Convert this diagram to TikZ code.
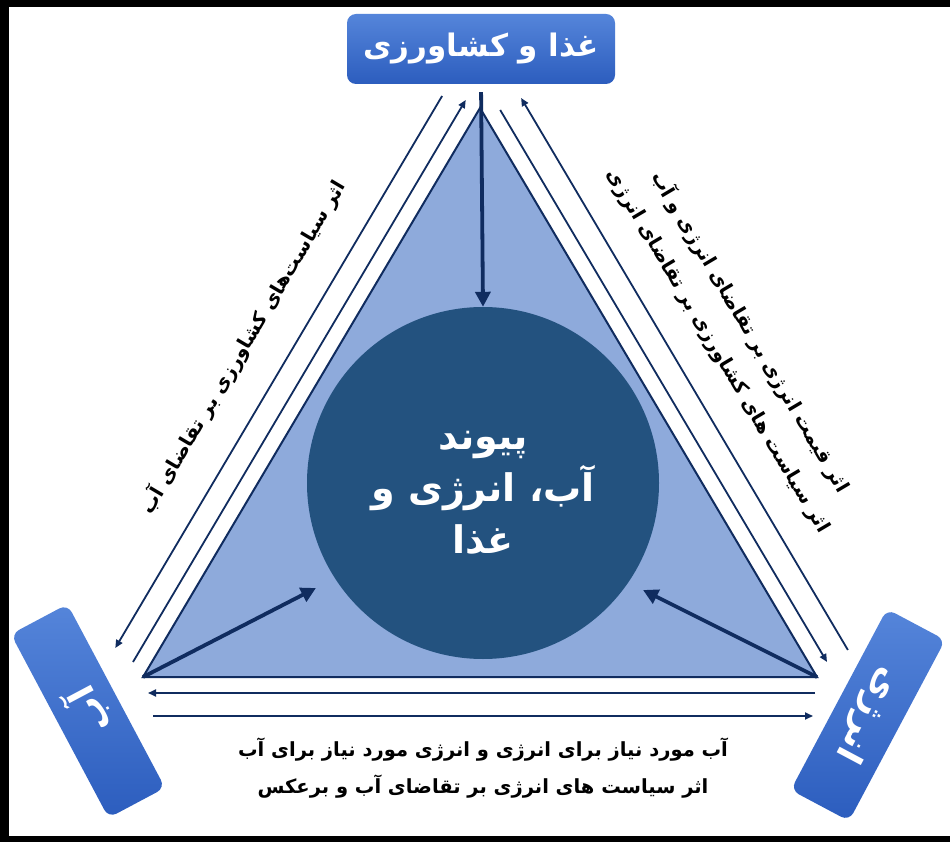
\documentclass[tikz,border=0pt]{standalone}
\usepackage{fontspec}
\newfontfamily\fa[Script=Arabic]{DejaVu Sans}
\TeXXeTstate=1
\usetikzlibrary{arrows.meta}
\definecolor{navy}{HTML}{102C5F}
\definecolor{trifill}{HTML}{8EAADB}
\definecolor{circfill}{HTML}{23527F}
\definecolor{boxtop}{HTML}{5585DA}
\definecolor{boxbot}{HTML}{2C5DBE}
\newcommand{\rl}[1]{\beginR#1\endR}
\begin{document}
\begin{tikzpicture}[x=1pt,y=-1pt,
  sideline/.style={draw=navy, line width=1.8pt},
  headend/.style={-{Triangle[length=8pt,width=7pt]}},
  bigarrow/.style={draw=navy, line width=3.8pt, -{Triangle[length=15pt,width=15pt]}},
  blockbox/.style={rounded corners=9pt, top color=boxtop, bottom color=boxbot, draw=none, text=white, inner sep=0pt, font=\fa\bfseries\fontsize{31}{33}\selectfont},
  sidefont/.style={font=\fa\bfseries\fontsize{36}{38}\selectfont},
  lbl/.style={inner sep=0pt, text=black, align=center, font=\fa\bfseries\fontsize{19.5}{37}\selectfont},
]
\useasboundingbox (0,0) rectangle (950,842);
\fill[white] (0,0) rectangle (950,842);
% frame
\fill[black] (0,0) rectangle (950,7);
\fill[black] (0,0) rectangle (9,842);
\fill[black] (0,836) rectangle (950,842);

% triangle
\coordinate (A) at (480,108);
\coordinate (B) at (143,677);
\coordinate (C) at (817,677);
\filldraw[fill=trifill, draw=navy, line width=2pt] (A) -- (B) -- (C) -- cycle;

% boxes
\node[blockbox, minimum width=268pt, minimum height=70pt] (food) at (481,49) {\rl{غذا و کشاورزی}};
\node[blockbox, sidefont, minimum width=208pt, minimum height=64pt, rotate=118] (water) at (88,711) {\rl{آب}};
\node[blockbox, sidefont, minimum width=205pt, minimum height=66pt, rotate=-118] (energy) at (868,715) {\rl{انرژی}};

% circle
\node[circle, fill=circfill, minimum size=352pt, inner sep=0pt] (nexus) at (483,483) {};
\node[text=white, align=center, inner sep=0pt, font=\fa\bfseries\fontsize{38}{52}\selectfont] (nexustxt) at (483,493) {\rl{پیوند}\\\rl{آب، انرژی و}\\\rl{غذا}};

% side line endpoints
\coordinate (LOt) at (442.1,96);  \coordinate (LOb) at (115.3,648);
\coordinate (LIt) at (465.7,100); \coordinate (LIb) at (133.0,662);
\coordinate (RIt) at (500.2,110); \coordinate (RIb) at (827.0,662);
\coordinate (ROt) at (521.1,98);  \coordinate (ROb) at (847.9,650);
\coordinate (BUr) at (815,693);   \coordinate (BUl) at (148,693);
\coordinate (BLl) at (153,716);   \coordinate (BLr) at (813,716);

\draw[sideline, headend] (LOt) -- (LOb);
\draw[sideline, headend] (LIb) -- (LIt);
\draw[sideline, headend] (RIt) -- (RIb);
\draw[sideline, headend] (ROb) -- (ROt);
\draw[sideline, headend] (BUr) -- (BUl);
\draw[sideline, headend] (BLl) -- (BLr);

% inner arrows
\coordinate (tipL) at (316,588);
\coordinate (tipR) at (643,590);
\draw[bigarrow, shorten <=8pt] (food.south) -- (nexus.north);
\draw[bigarrow] (B) -- (tipL);
\draw[bigarrow] (C) -- (tipR);

% labels
\node[lbl, rotate=59.4] (leftlbl) at (243,347) {\rl{اثر سیاست‌های کشاورزی بر تقاضای آب}};
\node[lbl, rotate=-59.4] (rightlbl) at (735,341) {\rl{اثر قیمت انرژی بر تقاضای انرژی و آب}\\\rl{اثر سیاست های کشاورزی بر تقاضای انرژی}};
\node[lbl] (bottomlbl) at (483,768) {\rl{آب مورد نیاز برای انرژی و انرژی مورد نیاز برای آب}\\\rl{اثر سیاست های انرژی بر تقاضای آب و برعکس}};
\end{tikzpicture}
\end{document}
